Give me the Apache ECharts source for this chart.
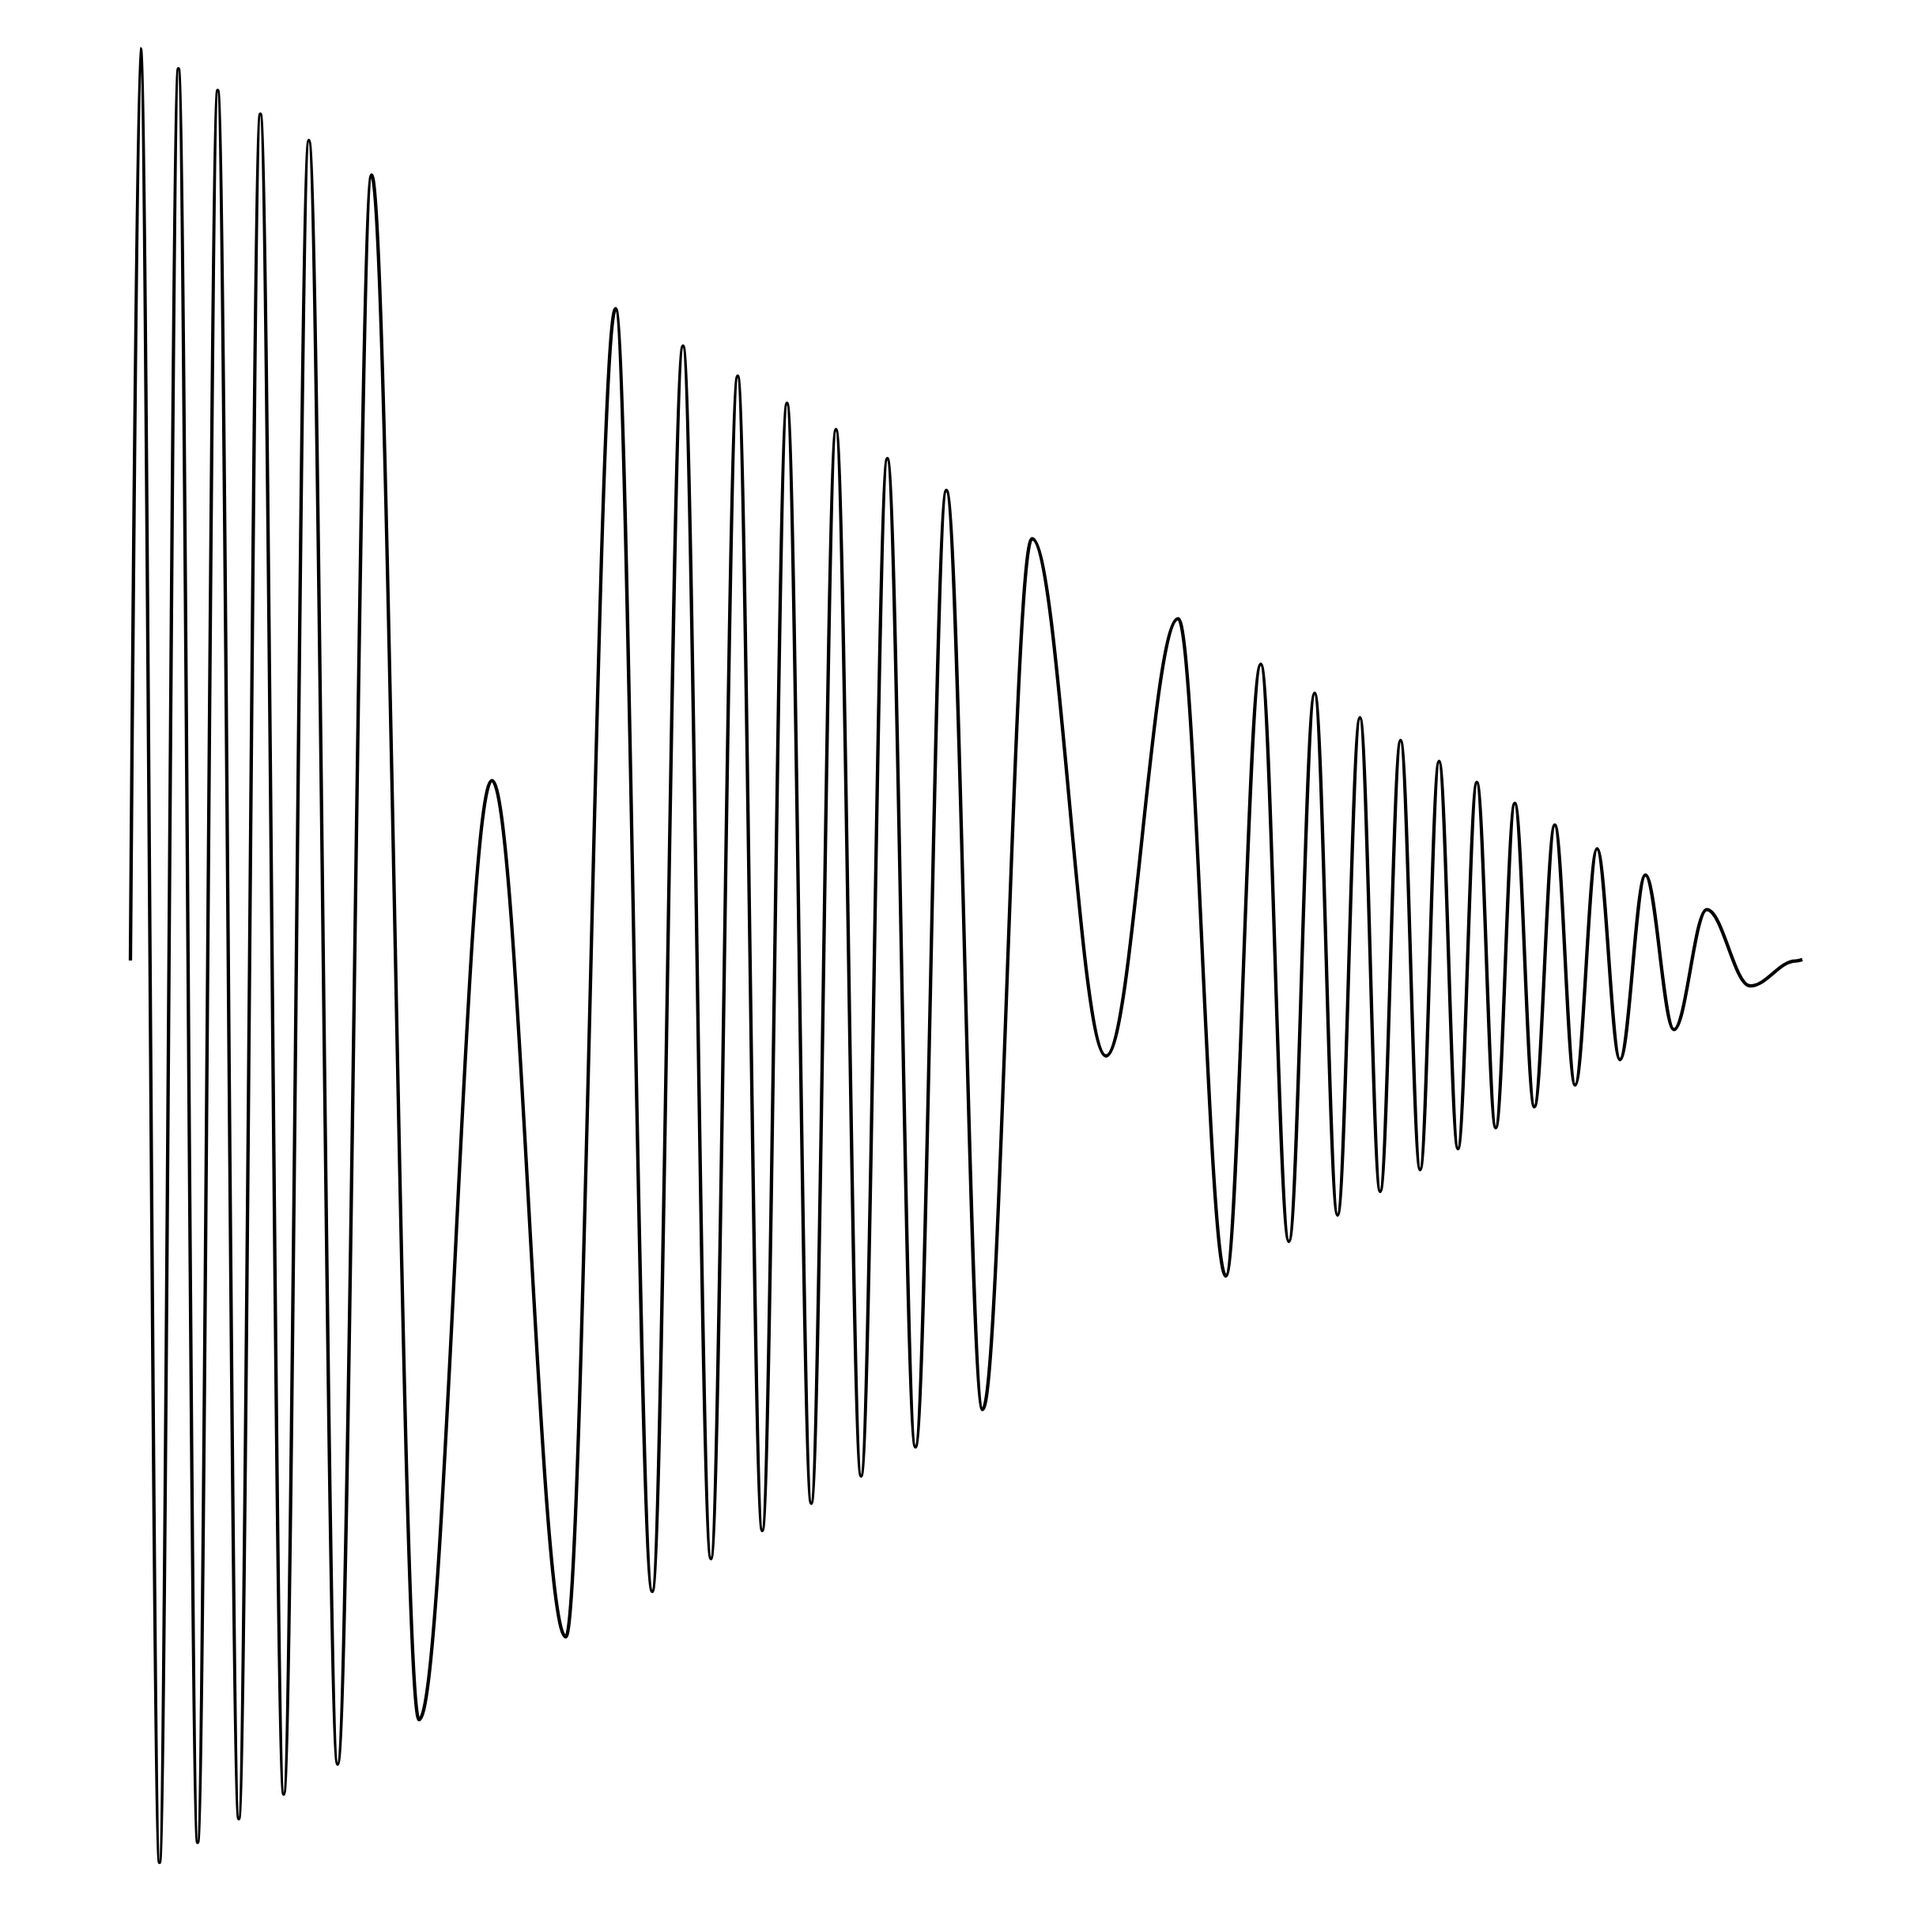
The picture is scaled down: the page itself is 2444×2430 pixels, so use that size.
<!DOCTYPE html>
<html>
<head>
<meta charset="utf-8">
<script src="https://cdn.jsdelivr.net/npm/echarts@6/dist/echarts.min.js"></script>
<style>
  html, body { margin: 0; padding: 0; background: #ffffff; }
  #chart { width: 2444px; height: 2430px; }
</style>
</head>
<body>
<div id="chart"></div>
<script>
// Waveform turning points (time in normalized seconds, amplitude)
const times = [
  0.0000, 0.0060, 0.0174, 0.0287, 0.0402, 0.0522, 0.0648, 0.0777, 0.0917, 0.1067,
  0.1239, 0.1442, 0.1726, 0.2162, 0.2604, 0.2902, 0.3121, 0.3305, 0.3472, 0.3632,
  0.3779, 0.3927, 0.4072, 0.4220, 0.4370, 0.4527, 0.4695, 0.4880, 0.5097, 0.5392,
  0.5835, 0.6267, 0.6552, 0.6761, 0.6929, 0.7083, 0.7220, 0.7354, 0.7475, 0.7597,
  0.7714, 0.7827, 0.7940, 0.8053, 0.8166, 0.8280, 0.8397, 0.8519, 0.8641, 0.8772,
  0.8909, 0.9061, 0.9232, 0.9428, 0.9688, 0.9960, 1.0000
];
const amplitudes = [
  0.000, 1.003, -0.992, 0.981, -0.970, 0.957, -0.944, 0.931, -0.917, 0.902,
  -0.884, 0.864, -0.835, 0.198, -0.744, 0.717, -0.694, 0.676, -0.658, 0.643,
  -0.627, 0.613, -0.597, 0.584, -0.567, 0.552, -0.535, 0.517, -0.494, 0.464,
  -0.105, 0.376, -0.347, 0.326, -0.309, 0.294, -0.280, 0.267, -0.254, 0.242,
  -0.230, 0.219, -0.207, 0.196, -0.184, 0.173, -0.161, 0.149, -0.137, 0.123,
  -0.109, 0.094, -0.076, 0.056, -0.028, -0.0005, 0.001
];

const seriesData = times.map((t, i) => [t, amplitudes[i]]);

const chart = echarts.init(document.getElementById('chart'), null, { renderer: 'canvas' });
chart.setOption({
  backgroundColor: '#ffffff',
  animation: false,
  grid: { left: 165, right: 164, top: 7.5, bottom: 7.5 },
  xAxis: { type: 'value', min: 0, max: 1, show: false },
  yAxis: { type: 'value', min: -1.05, max: 1.05, show: false },
  series: [{
    type: 'line',
    data: seriesData,
    showSymbol: false,
    smooth: 0.36,
    smoothMonotone: 'x',
    lineStyle: { color: '#000000', width: 4.3, cap: 'butt', join: 'round' },
    silent: true
  }]
});
</script>
</body>
</html>
